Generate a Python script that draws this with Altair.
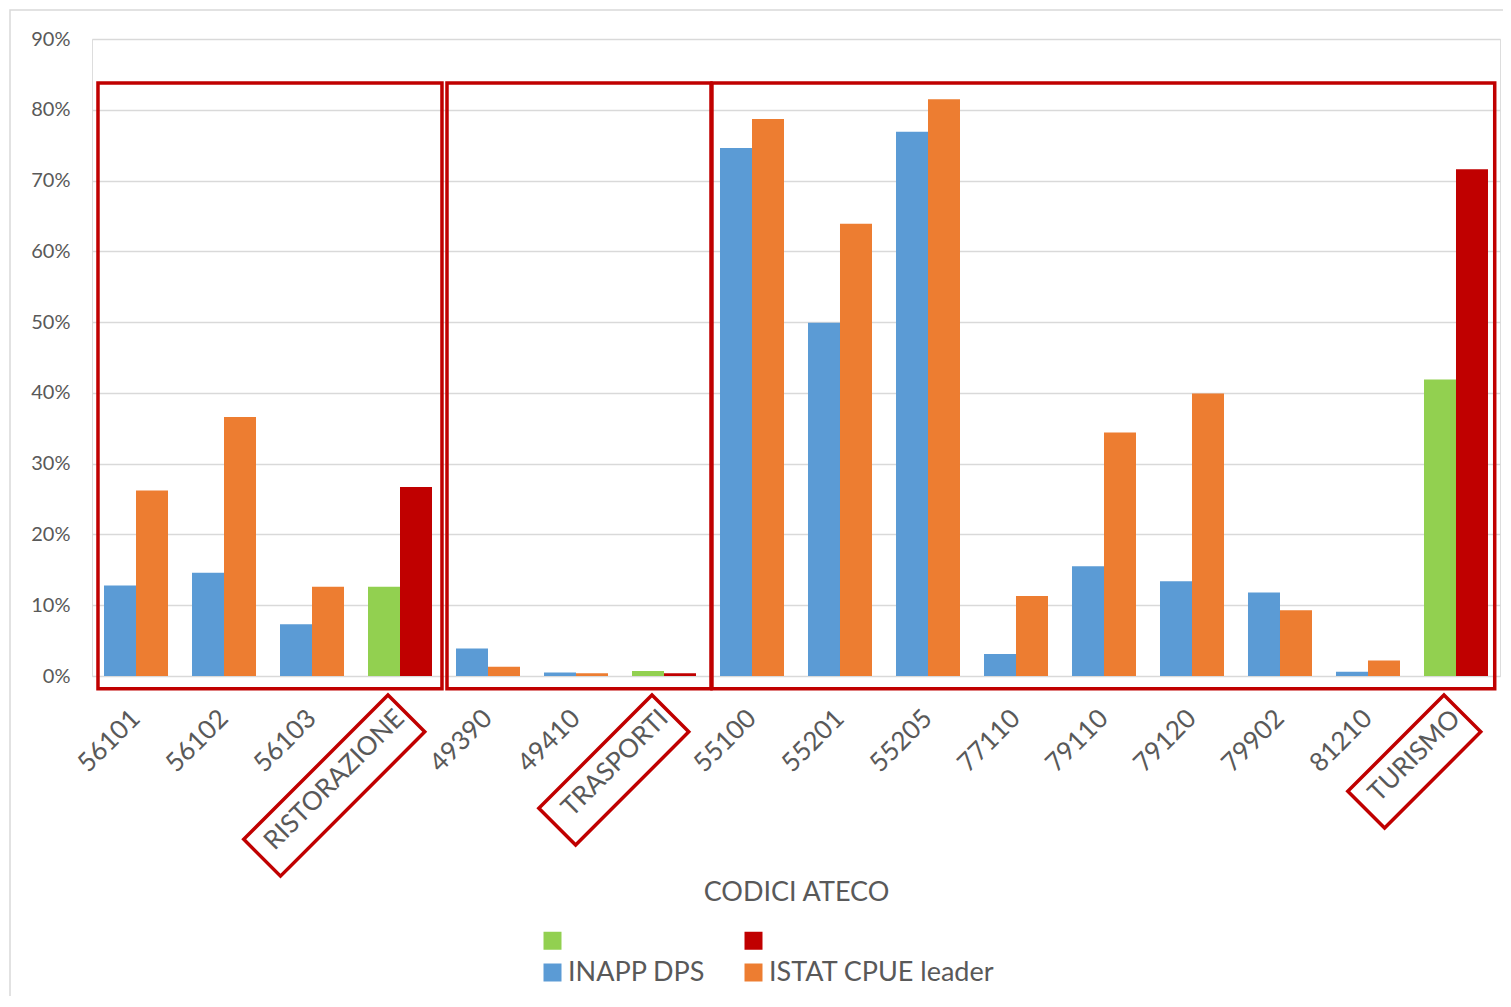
import altair as alt
import pandas as pd

# ---------------- data ----------------
categories = ["56101", "56102", "56103", "RISTORAZIONE", "49390", "49410", "TRASPORTI",
              "55100", "55201", "55205", "77110", "79110", "79120", "79902", "81210", "TURISMO"]
inapp_dps = [0.128, 0.146, 0.073, 0.126, 0.039, 0.005, 0.007,
             0.746, 0.499, 0.769, 0.031, 0.155, 0.134, 0.118, 0.006, 0.419]
istat_cpue = [0.262, 0.366, 0.126, 0.267, 0.013, 0.004, 0.004,
              0.787, 0.639, 0.815, 0.113, 0.344, 0.399, 0.093, 0.022, 0.716]
sector_totals = ["RISTORAZIONE", "TRASPORTI", "TURISMO"]

# legend is filled column by column: (green, blue) | (red, orange)
series_domain = ["TOT_INAPP", "INAPP DPS", "TOT_ISTAT", "ISTAT CPUE leader"]
series_colors = ["#92D050", "#5B9BD5", "#C00000", "#ED7D31"]

# grouping boxes (in category-band units along x, value units along y)
group_start = [0.068, 4.034, 7.045]
group_end = [3.977, 7.034, 15.94]
group_top = [0.838, 0.838, 0.838]
group_bottom = [-0.018, -0.018, -0.018]

# highlighted sector labels: box length (px) along the rotated label
label_box_len = [204, 160, 136]

rows = []
for c, a, b in zip(categories, inapp_dps, istat_cpue):
    tot = c in sector_totals
    rows.append({"cat": c, "pos": "a", "serie": "TOT_INAPP" if tot else "INAPP DPS", "val": a})
    rows.append({"cat": c, "pos": "b", "serie": "TOT_ISTAT" if tot else "ISTAT CPUE leader", "val": b})
df = pd.DataFrame(rows)

df_groups = pd.DataFrame({"x0": group_start, "x1": group_end, "top": group_top, "bot": group_bottom})


def box_path(L, gap=22, y0=5, y1=57):
    x0, x1 = -(L + gap), -gap
    return f"M{x0},{y0}L{x1},{y0}L{x1},{y1}L{x0},{y1}Z"


df_lbl = pd.DataFrame({"cat": sector_totals, "shp": [box_path(L) for L in label_box_len]})

FONT = "Lato"
GREY = "#595959"
RED = "#C00000"

x_scale = alt.Scale(domain=categories, paddingInner=0.2727, paddingOuter=0.1364)
x_axis = alt.Axis(title="CODICI ATECO", labelAngle=-45, labelAlign="right", labelBaseline="middle",
                  labelFontSize=26, labelColor=GREY, labelPadding=38, labelFont=FONT, labelLimit=400,
                  ticks=False, tickSize=0, domain=False, grid=False,
                  titleFont=FONT, titleFontSize=27, titleColor=GREY, titleFontWeight="normal",
                  titleY=224, titleBaseline="alphabetic", labelOverlap=False)
y_scale = alt.Scale(domain=[0, 0.9], nice=False, zero=True)
y_axis = alt.Axis(title=None, format=".0%", values=[0, 0.1, 0.2, 0.3, 0.4, 0.5, 0.6, 0.7, 0.8, 0.9],
                  labelFontSize=20, labelColor=GREY, labelFont=FONT, labelPadding=22,
                  ticks=False, tickSize=0, domain=False, grid=True, gridColor="#D9D9D9", gridWidth=1.5)

x_enc = alt.X("cat:N", sort=categories, scale=x_scale, axis=x_axis)

bars = alt.Chart(df).mark_bar().encode(
    x=x_enc,
    xOffset=alt.XOffset("pos:N", scale=alt.Scale(paddingInner=0, paddingOuter=0)),
    y=alt.Y("val:Q", scale=y_scale, axis=y_axis),
    color=alt.Color("serie:N", scale=alt.Scale(domain=series_domain, range=series_colors),
                    legend=alt.Legend(title=None, orient="none", legendX=447, legendY=888,
                                      columns=2, columnPadding=34, rowPadding=4,
                                      symbolType="square", symbolSize=324, symbolStrokeWidth=0,
                                      symbolOpacity=1, labelFont=FONT, labelFontSize=27,
                                      labelColor=GREY, labelOffset=2, labelLimit=400,
                                      labelExpr="datum.label == 'TOT_INAPP' || datum.label == 'TOT_ISTAT' ? '' : datum.label")),
)

label_boxes = alt.Chart(df_lbl).mark_point(filled=False, color=RED, strokeWidth=3.5, size=4,
                                           angle=315, opacity=1).encode(
    x=x_enc,
    y=alt.Y(datum=0, scale=y_scale, axis=y_axis),
    shape=alt.Shape("shp:N", scale=None, legend=None),
)

inner = alt.layer(bars, label_boxes)

groups = alt.Chart(df_groups).mark_rect(filled=False, stroke=RED, strokeWidth=3.5).encode(
    x=alt.X("x0:Q", scale=alt.Scale(domain=[0, 16], nice=False, zero=False), axis=None),
    x2="x1:Q",
    y=alt.Y("top:Q", scale=y_scale, axis=y_axis),
    y2="bot:Q",
)

frame = alt.Chart(df_groups.head(1)).mark_rect(filled=False, stroke="#D9D9D9", strokeWidth=1.5).encode(
    x=alt.value(-82), x2=alt.value(1460), y=alt.value(-29), y2=alt.value(1020)
)

chart = alt.layer(frame, inner, groups).resolve_scale(x="independent").properties(
    width=1408, height=637,
    autosize=alt.AutoSizeParams(type="none"),
    padding={"left": 84, "top": 31, "right": 3, "bottom": 320},
).configure_view(stroke=None).configure(font=FONT)

chart.save("out.html", embed_options={"renderer": "svg", "actions": False})
